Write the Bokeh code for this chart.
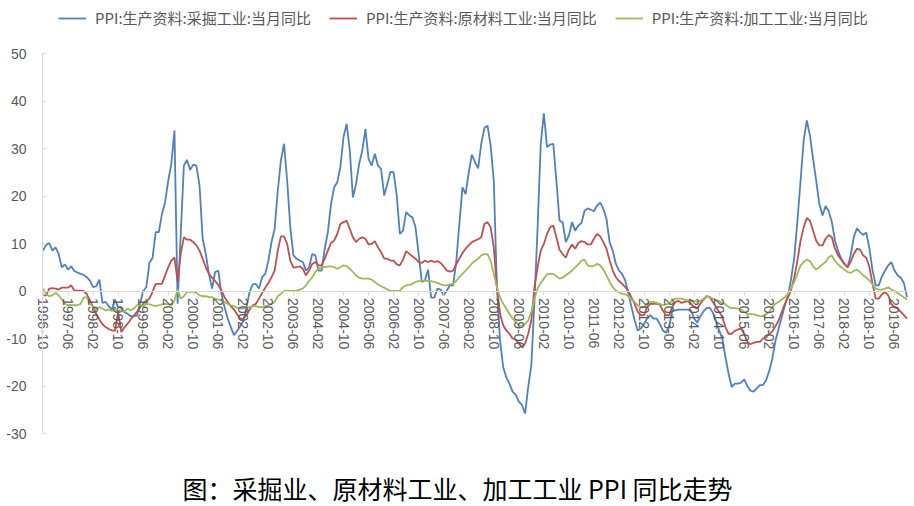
from bokeh.plotting import figure
from bokeh.models import LinearAxis, FixedTicker, Range1d, Legend, LegendItem, Label
from bokeh.embed import file_html
from bokeh.resources import INLINE

series_names = ["PPI:生产资料:采掘工业:当月同比",
                "PPI:生产资料:原材料工业:当月同比",
                "PPI:生产资料:加工工业:当月同比"]

tick_labels = ["1996-10", "1997-06", "1998-02", "1998-10", "1999-06", "2000-02", "2000-10",
               "2001-06", "2002-02", "2002-10", "2003-06", "2004-02", "2004-10", "2005-06",
               "2006-02", "2006-10", "2007-06", "2008-02", "2008-10", "2009-06", "2010-02",
               "2010-10", "2011-06", "2012-02", "2012-10", "2013-06", "2014-02", "2014-10",
               "2015-06", "2016-02", "2016-10", "2017-06", "2018-02", "2018-10", "2019-06"]

y_ticks = [-30, -20, -10, 0, 10, 20, 30, 40, 50]

# monthly values, 1996-10 .. 2019-10
mining = [
    8.5, 9.7, 10.1, 8.5, 9.2, 7.8, 5.0, 5.6, 4.5, 5.2, 4.2, 3.9,
    3.6, 3.4, 2.9, 2.2, 0.8, 1.0, 2.4, -2.5, -2.3, -3.2, -3.9, -1.8,
    -3.4, -3.4, -4.4, -4.8, -5.3, -5.3, -5.2, -2.7, 0.0, 0.8, 5.9, 7.0,
    12.4, 12.4, 16.2, 18.7, 23.2, 26.8, 33.8, -2.7, 12.0, 26.4, 27.6, 25.5,
    26.6, 26.4, 22.2, 11.0, 7.8, 3.6, 0.5, 4.0, 4.3, -0.6, -3.4, -5.8,
    -7.6, -9.3, -8.4, -7.4, -6.3, -3.4, -0.2, 1.4, 1.5, 0.5, 2.9, 3.6,
    6.4, 10.3, 13.1, 21.1, 27.5, 31.0, 23.2, 13.4, 7.5, 6.8, 6.4, 6.1,
    4.3, 5.0, 7.8, 7.5, 4.3, 4.3, 8.9, 12.4, 18.3, 21.8, 22.9, 26.1,
    32.4, 35.2, 29.6, 19.7, 22.5, 26.8, 29.6, 34.1, 27.8, 26.4, 28.9, 26.4,
    25.7, 20.1, 22.5, 25.1, 25.0, 20.1, 12.0, 12.7, 16.6, 15.9, 15.5, 13.4,
    7.8, 1.9, 2.2, 4.5, -1.4, -1.4, 0.5, 0.3, -0.9, 0.1, 1.2, 1.2,
    6.1, 14.1, 21.8, 20.4, 25.0, 28.7, 27.1, 25.8, 31.0, 34.3, 34.8, 30.6,
    23.2, 0.8, -10.4, -16.0, -18.2, -19.5, -21.2, -21.8, -23.3, -24.0, -25.8, -20.2,
    -15.6, -2.0, 13.4, 31.0, 37.4, 30.3, 30.8, 31.0, 23.2, 14.8, 14.5, 10.3,
    11.7, 14.5, 12.7, 13.8, 14.3, 16.9, 17.4, 17.1, 16.8, 18.0, 18.6, 17.3,
    15.2, 10.3, 8.5, 5.7, 4.3, 3.6, 2.2, -0.6, -3.4, -6.2, -8.3, -7.9,
    -6.9, -5.8, -5.1, -5.8, -5.8, -6.9, -8.3, -8.8, -7.6, -4.1, -4.1, -3.9,
    -3.9, -3.9, -3.9, -4.1, -5.8, -6.7, -5.3, -4.3, -3.6, -3.5, -4.6, -6.4,
    -8.3, -10.0, -13.9, -17.4, -20.2, -19.5, -19.5, -19.3, -18.6, -20.0, -21.0, -21.2,
    -20.5, -19.8, -19.8, -18.8, -16.8, -14.2, -10.4, -7.9, -5.5, -3.0, -0.9, 2.6,
    7.1, 14.8, 23.2, 31.7, 35.9, 32.7, 27.8, 23.2, 18.3, 15.9, 17.9, 16.8,
    14.5, 10.6, 8.4, 6.8, 5.7, 5.0, 7.5, 11.3, 13.2, 12.4, 11.8, 12.3,
    8.9, 4.3, 1.2, 1.2, 3.1, 4.3, 5.4, 6.1, 4.3, 3.3, 2.8, 1.7, -1.3,
]

raw_material = [
    -0.9, -0.9, 0.5, 0.6, 0.5, 0.3, 0.7, 0.7, 0.7, 1.2, 0.1, 0.1,
    0.1, 0.0, -0.7, -2.0, -3.4, -4.8, -6.0, -7.0, -7.6, -8.0, -8.3, -8.4,
    -4.5, -8.6, -7.7, -6.9, -6.0, -5.2, -4.4, -3.4, -2.7, -2.1, -1.6, -0.2,
    1.5, 1.5, 1.5, 3.3, 5.0, 6.4, 7.1, 2.0, 7.8, 11.3, 10.8, 10.8,
    10.3, 9.6, 8.5, 6.8, 5.0, 3.6, 2.8, 2.1, 1.3, 0.1, -1.3, -2.3,
    -3.2, -3.9, -4.9, -5.8, -5.8, -5.1, -3.9, -3.0, -2.7, -1.6, -0.4, 0.7,
    1.7, 2.9, 4.3, 8.5, 11.5, 11.5, 9.9, 6.4, 4.9, 5.0, 5.2, 4.7,
    3.3, 4.3, 5.7, 6.1, 5.4, 5.4, 6.8, 8.5, 10.1, 10.6, 12.0, 14.1,
    14.5, 14.8, 13.1, 11.3, 10.3, 11.0, 11.3, 11.0, 9.8, 9.9, 10.5, 9.2,
    8.2, 6.8, 6.8, 6.4, 6.4, 5.6, 5.4, 6.6, 8.4, 7.8, 7.3, 6.8,
    6.1, 5.9, 6.4, 6.1, 6.4, 6.1, 6.3, 5.9, 5.2, 4.3, 4.1, 4.3,
    5.6, 6.8, 8.0, 8.9, 9.6, 10.3, 10.6, 10.9, 11.3, 14.1, 14.5, 13.4,
    9.2, 0.8, -4.8, -7.2, -8.3, -9.0, -10.0, -10.2, -11.1, -11.8, -11.1, -9.0,
    -6.2, 0.8, 5.0, 8.5, 9.9, 12.0, 13.4, 13.8, 11.3, 8.7, 7.8, 7.0,
    8.7, 9.8, 8.9, 10.1, 10.5, 10.3, 9.8, 9.8, 11.0, 12.0, 11.5, 10.3,
    8.9, 6.4, 4.3, 2.9, 2.1, 1.5, 0.8, 0.0, -1.4, -2.7, -4.4, -5.1,
    -5.1, -3.4, -2.7, -2.7, -2.7, -2.8, -4.1, -5.1, -5.1, -3.4, -2.3, -2.1,
    -2.5, -2.3, -2.1, -2.7, -3.4, -3.7, -2.7, -1.8, -1.1, -1.3, -2.3, -3.4,
    -4.4, -5.5, -7.6, -9.0, -9.0, -8.4, -8.1, -7.9, -9.0, -10.7, -11.2, -10.9,
    -10.7, -10.7, -10.0, -9.7, -9.0, -8.5, -7.4, -6.2, -4.4, -2.7, -1.3, 0.3,
    2.9, 6.4, 10.6, 13.4, 15.4, 14.8, 12.7, 10.6, 9.6, 9.6, 11.0, 11.8,
    11.3, 8.9, 7.5, 6.6, 5.7, 5.0, 6.1, 7.8, 8.9, 8.7, 7.5, 7.0,
    5.0, 1.5, -1.6, -1.6, -0.7, -0.2, -0.9, -2.7, -3.4, -3.7, -4.4, -5.1, -5.8,
]

processing = [
    0.5, -0.6, -1.1, -0.9, -0.4, -0.9, -1.8, -2.7, -3.0, -2.9, -3.0, -3.0,
    -2.7, -1.4, -1.3, -2.7, -3.4, -3.9, -3.4, -3.7, -4.1, -3.9, -4.2, -3.7,
    -4.4, -3.7, -4.4, -3.7, -4.1, -3.7, -3.0, -2.8, -3.2, -2.7, -2.8, -3.0,
    -3.2, -3.0, -2.8, -2.7, -2.8, -3.0, -2.0, 0.3, -1.6, -1.1, -0.2, -0.2,
    -0.2, -0.4, -0.9, -1.1, -1.1, -1.3, -1.3, -1.6, -1.8, -2.0, -2.3, -2.7,
    -3.0, -3.2, -3.5, -3.7, -3.7, -3.5, -3.4, -3.2, -3.2, -3.4, -3.4, -3.2,
    -3.0, -2.7, -2.3, -1.1, -0.6, 0.0, 0.1, 0.0, 0.0, 0.1, 0.3, 0.5,
    1.2, 2.1, 2.9, 4.0, 4.7, 5.0, 5.0, 5.2, 5.2, 5.0, 4.7, 5.0,
    5.4, 5.2, 4.7, 4.0, 3.3, 2.8, 2.6, 2.6, 2.6, 2.4, 1.9, 1.4,
    1.0, 0.7, 0.3, 0.1, 0.0, 0.0, 0.1, 0.8, 1.2, 1.3, 1.5, 1.9,
    2.1, 2.2, 2.2, 2.1, 2.1, 1.9, 1.7, 1.4, 1.2, 1.2, 1.4, 1.5,
    2.1, 2.9, 3.6, 4.3, 5.0, 5.8, 6.3, 6.8, 7.5, 7.8, 7.7, 6.4,
    3.6, 0.8, -1.3, -2.7, -3.7, -4.8, -5.8, -6.5, -7.2, -7.4, -6.9, -6.2,
    -4.4, -1.6, 0.5, 1.7, 2.6, 3.5, 3.6, 3.6, 3.1, 2.6, 2.8, 3.3,
    3.8, 4.3, 5.0, 5.6, 6.4, 6.6, 5.4, 5.2, 5.3, 5.7, 5.4, 4.5,
    3.3, 1.9, 0.8, 0.1, -0.3, -0.6, -0.7, -1.1, -1.8, -2.3, -3.0, -3.4,
    -3.4, -2.7, -2.3, -2.3, -2.5, -2.7, -3.0, -2.8, -2.7, -2.0, -1.6, -1.6,
    -1.6, -1.8, -2.0, -2.1, -2.1, -2.3, -2.1, -1.6, -1.1, -1.3, -1.6, -2.0,
    -2.1, -2.5, -2.8, -3.4, -3.6, -3.6, -3.7, -3.9, -4.4, -4.8, -4.8, -4.9,
    -5.1, -5.3, -5.3, -4.9, -4.4, -3.4, -2.7, -2.3, -1.8, -1.3, -0.6, 0.7,
    1.9, 3.6, 5.4, 6.1, 6.6, 6.3, 5.2, 4.5, 5.0, 5.6, 6.1, 7.1,
    7.5, 6.3, 5.6, 5.0, 4.5, 4.0, 3.8, 4.2, 4.5, 4.0, 3.3, 2.8,
    2.2, 1.4, 0.5, 0.3, 0.3, 0.5, 0.8, 0.3, 0.0, -0.4, -0.9, -1.3, -1.8,
]

title_text = "图：采掘业、原材料工业、加工工业 PPI 同比走势"

colors = ["#4F81BD", "#C0504D", "#9BBB59"]
x = list(range(len(mining)))
n = len(mining)

W, H = 914, 506
TOP, BOT = 53, 433            # pixel rows of the top and bottom y ticks
LEFT, RIGHT = 42.5, 906.5     # pixel columns of the first and last month
ppu = (BOT - TOP) / (y_ticks[-1] - y_ticks[0])
y_lo = y_ticks[0] - (H - BOT) / ppu
y_hi = y_ticks[-1] + TOP / ppu
ppm = (RIGHT - LEFT) / (n - 1)
x_lo = -LEFT / ppm
x_hi = (n - 1) + (W - RIGHT) / ppm
y_axis_x = (42 - LEFT) / ppm

p = figure(width=W, height=H, output_backend="svg", toolbar_location=None,
           x_range=Range1d(x_lo, x_hi), y_range=Range1d(y_lo, y_hi),
           x_axis_location=None, y_axis_location=None,
           min_border_left=0, min_border_right=0, min_border_top=0, min_border_bottom=0)
p.outline_line_color = None
p.grid.grid_line_color = None
p.background_fill_color = "white"

yax = LinearAxis(fixed_location=y_axis_x, ticker=FixedTicker(ticks=y_ticks),
                 bounds=(y_ticks[0], y_ticks[-1]),
                 major_label_overrides={t: str(t) for t in y_ticks},
                 axis_line_color="#d9d9d9", major_tick_line_color="#d9d9d9",
                 major_tick_in=4, major_tick_out=0, minor_tick_line_color=None,
                 major_label_text_font="Liberation Sans", major_label_text_font_size="14px",
                 major_label_text_color="#595959", major_label_standoff=16)
p.add_layout(yax, "left")

xticks = [8 * k for k in range(len(tick_labels))]
xax = LinearAxis(fixed_location=0, ticker=FixedTicker(ticks=xticks),
                 bounds=(y_axis_x, n - 0.5),
                 major_label_overrides={t: lab for t, lab in zip(xticks, tick_labels)},
                 major_label_orientation="vertical",
                 axis_line_color="#d9d9d9", major_tick_line_color="#d9d9d9",
                 major_tick_in=0, major_tick_out=4, minor_tick_line_color=None,
                 major_label_text_font="Liberation Sans", major_label_text_font_size="14px",
                 major_label_text_color="#595959", major_label_standoff=3)
p.add_layout(xax, "below")

renderers = []
for vals, c in zip([mining, raw_material, processing], colors):
    renderers.append(p.line(x, vals, line_color=c, line_width=1.8))

legend = Legend(items=[LegendItem(label=nm, renderers=[r]) for nm, r in zip(series_names, renderers)],
                orientation="horizontal", location=(58, H - 18 - 10),
                label_text_font="Noto Sans CJK SC", label_text_font_size="15px",
                label_text_color="#595959", glyph_width=28, glyph_height=20,
                label_height=20, label_standoff=9, spacing=18, padding=0, margin=0,
                border_line_color=None, background_fill_alpha=0)
p.add_layout(legend, "center")

title = Label(x=457, y=H - 487, x_units="screen", y_units="screen", text=title_text,
              text_align="center", text_baseline="middle", text_font="Noto Sans CJK SC",
              text_font_size="25px", text_color="black")
p.add_layout(title)

open("out.html", "w").write(file_html(p, INLINE))
